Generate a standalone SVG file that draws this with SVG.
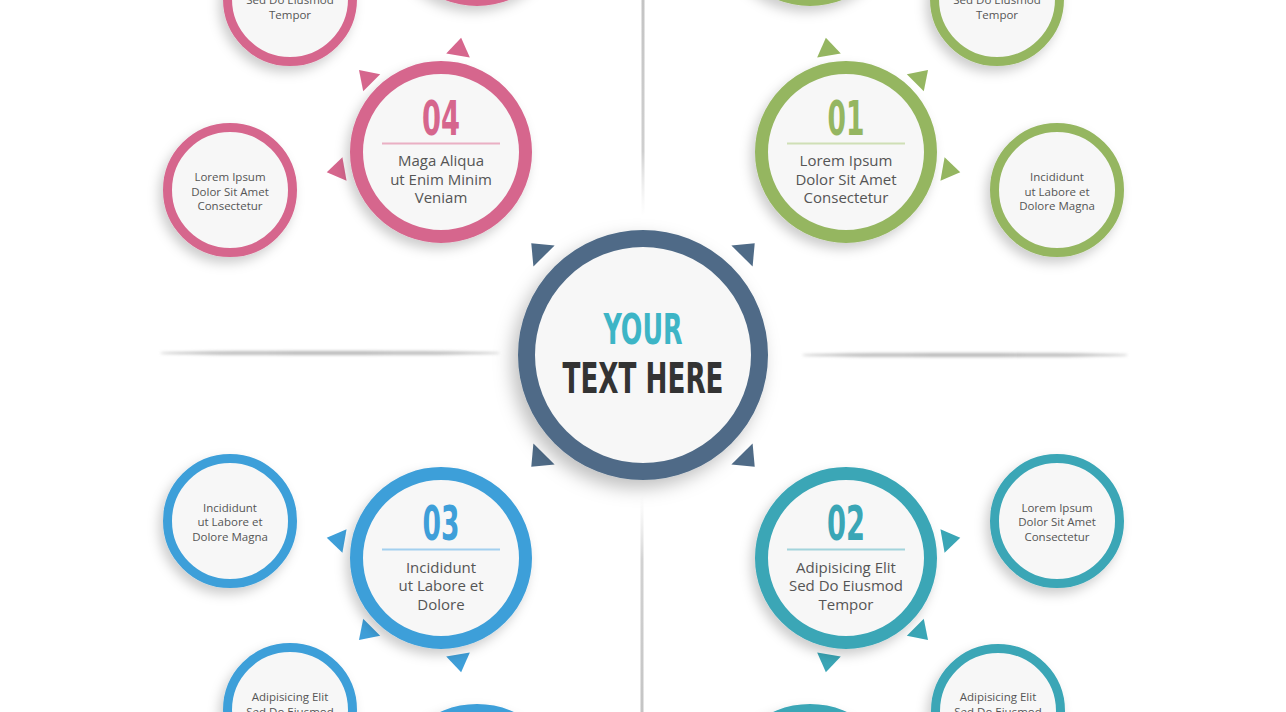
<svg xmlns="http://www.w3.org/2000/svg" xmlns:xlink="http://www.w3.org/1999/xlink" width="1286" height="712" viewBox="0 0 1286 712">
<defs>
  <filter id="sh" x="-30%" y="-30%" width="160%" height="160%">
    <feDropShadow dx="-4" dy="6" stdDeviation="6" flood-color="#000" flood-opacity="0.2"/>
  </filter>
  <filter id="shC" x="-30%" y="-30%" width="160%" height="160%">
    <feDropShadow dx="-6" dy="8" stdDeviation="9" flood-color="#000" flood-opacity="0.25"/>
  </filter>
  <filter id="blur" x="-10%" y="-400%" width="120%" height="900%">
    <feGaussianBlur stdDeviation="1.6"/>
  </filter>
  <linearGradient id="vTop" x1="0" y1="0" x2="0" y2="1">
    <stop offset="0" stop-color="#c4c4c4"/>
    <stop offset="0.7" stop-color="#cfcfcf"/>
    <stop offset="1" stop-color="#e8e8e8" stop-opacity="0"/>
  </linearGradient>
  <linearGradient id="vBot" x1="0" y1="1" x2="0" y2="0">
    <stop offset="0" stop-color="#c4c4c4"/>
    <stop offset="0.7" stop-color="#d2d2d2"/>
    <stop offset="1" stop-color="#e8e8e8" stop-opacity="0"/>
  </linearGradient>
  <polygon id="triN" points="116,0 98,-12 98,12"/>
  <polygon id="triC" points="158,0 140,-15 140,15"/>
</defs>
<style>
  .bg { fill: #ffffff; }
  .face { fill: #f7f7f7; }
  .ringL { stroke-width: 13; }
  .ringS { stroke-width: 9; }
  .pk { fill: #d6668d; } .pkS { stroke: #d6668d; }
  .gr { fill: #95b661; } .grS { stroke: #95b661; }
  .bl { fill: #3e9fd9; } .blS { stroke: #3e9fd9; }
  .tl { fill: #3aa6b6; } .tlS { stroke: #3aa6b6; }
  .cb { fill: #4f6b87; }
  .sm { font-family: "Open Sans", "DejaVu Sans", sans-serif; font-size: 11.5px; fill: #555555; text-anchor: middle; }
  .md { font-family: "Open Sans", "DejaVu Sans", sans-serif; font-size: 15px; fill: #555555; text-anchor: middle; }
  .num { font-family: "Liberation Sans Narrow", "DejaVu Sans Condensed", sans-serif; font-size: 48px; font-weight: bold; text-anchor: middle; }
  .big { font-family: "Liberation Sans Narrow", "DejaVu Sans Condensed", sans-serif; font-size: 43px; font-weight: bold; text-anchor: middle; }
</style>
<rect class="bg" x="0" y="0" width="1286" height="712"/>

<g id="dividers">
  <rect x="641.5" y="0" width="3" height="216" fill="url(#vTop)"/>
  <rect x="640.5" y="495" width="3" height="217" fill="url(#vBot)"/>
  <ellipse cx="330" cy="353" rx="170" ry="2" fill="#b8b8b8" filter="url(#blur)"/>
  <ellipse cx="965" cy="355" rx="163" ry="2" fill="#b8b8b8" filter="url(#blur)"/>
</g>

<!-- partial circles at edges -->
<g id="edge-pink-top">
  <circle cx="477" cy="-85" r="84.5" class="face pkS ringL" filter="url(#sh)"/>
</g>
<g id="edge-green-top">
  <circle cx="810" cy="-85" r="84.5" class="face grS ringL" filter="url(#sh)"/>
</g>
<g id="edge-blue-bottom">
  <circle cx="477" cy="795" r="84.5" class="face blS ringL" filter="url(#sh)"/>
</g>
<g id="edge-teal-bottom">
  <circle cx="810" cy="795" r="84.5" class="face tlS ringL" filter="url(#sh)"/>
</g>

<!-- small pink -->
<g id="small-pink-top">
  <circle cx="290" cy="-1" r="62.5" class="face pkS ringS" filter="url(#sh)"/>
  <text class="sm" x="290" y="4">Sed Do Eiusmod</text>
  <text class="sm" x="290" y="18.5">Tempor</text>
</g>
<g id="small-pink-left">
  <circle cx="230" cy="190" r="62.5" class="face pkS ringS" filter="url(#sh)"/>
  <text class="sm" x="230" y="181">Lorem Ipsum</text>
  <text class="sm" x="230" y="195.5">Dolor Sit Amet</text>
  <text class="sm" x="230" y="210">Consectetur</text>
</g>

<!-- small green -->
<g id="small-green-top">
  <circle cx="997" cy="-1" r="62.5" class="face grS ringS" filter="url(#sh)"/>
  <text class="sm" x="997" y="4">Sed Do Eiusmod</text>
  <text class="sm" x="997" y="18.5">Tempor</text>
</g>
<g id="small-green-right">
  <circle cx="1057" cy="190" r="62.5" class="face grS ringS" filter="url(#sh)"/>
  <text class="sm" x="1057" y="181">Incididunt</text>
  <text class="sm" x="1057" y="195.5">ut Labore et</text>
  <text class="sm" x="1057" y="210">Dolore Magna</text>
</g>

<!-- small blue -->
<g id="small-blue-left">
  <circle cx="230" cy="521" r="62.5" class="face blS ringS" filter="url(#sh)"/>
  <text class="sm" x="230" y="511.5">Incididunt</text>
  <text class="sm" x="230" y="526">ut Labore et</text>
  <text class="sm" x="230" y="540.5">Dolore Magna</text>
</g>
<g id="small-blue-bottom">
  <circle cx="290" cy="710" r="62.5" class="face blS ringS" filter="url(#sh)"/>
  <text class="sm" x="290" y="701">Adipisicing Elit</text>
  <text class="sm" x="290" y="715.5">Sed Do Eiusmod</text>
</g>

<!-- small teal -->
<g id="small-teal-right">
  <circle cx="1057" cy="521" r="62.5" class="face tlS ringS" filter="url(#sh)"/>
  <text class="sm" x="1057" y="511.5">Lorem Ipsum</text>
  <text class="sm" x="1057" y="526">Dolor Sit Amet</text>
  <text class="sm" x="1057" y="540.5">Consectetur</text>
</g>
<g id="small-teal-bottom">
  <circle cx="998" cy="711" r="62.5" class="face tlS ringS" filter="url(#sh)"/>
  <text class="sm" x="998" y="701">Adipisicing Elit</text>
  <text class="sm" x="998" y="715.5">Sed Do Eiusmod</text>
</g>

<!-- numbered 04 -->
<g id="node-04">
  <use xlink:href="#triN" class="pk" transform="translate(441,152) rotate(-80)"/>
  <use xlink:href="#triN" class="pk" transform="translate(441,152) rotate(-135)"/>
  <use xlink:href="#triN" class="pk" transform="translate(441,152) rotate(170)"/>
  <circle cx="441" cy="152" r="84.5" class="face pkS ringL" filter="url(#sh)"/>
  <text class="num" x="441" y="135" fill="#d6668d" textLength="38" lengthAdjust="spacingAndGlyphs">04</text>
  <line x1="382" y1="143.5" x2="500" y2="143.5" stroke="#eab0c4" stroke-width="2"/>
  <text class="md" x="441" y="166">Maga Aliqua</text>
  <text class="md" x="441" y="184.5">ut Enim Minim</text>
  <text class="md" x="441" y="203">Veniam</text>
</g>

<!-- numbered 01 -->
<g id="node-01">
  <use xlink:href="#triN" class="gr" transform="translate(846,152) rotate(-100)"/>
  <use xlink:href="#triN" class="gr" transform="translate(846,152) rotate(-45)"/>
  <use xlink:href="#triN" class="gr" transform="translate(846,152) rotate(10)"/>
  <circle cx="846" cy="152" r="84.5" class="face grS ringL" filter="url(#sh)"/>
  <text class="num" x="846" y="135" fill="#95b661" textLength="37" lengthAdjust="spacingAndGlyphs">01</text>
  <line x1="787" y1="143.5" x2="905" y2="143.5" stroke="#cfdfb6" stroke-width="2"/>
  <text class="md" x="846" y="166">Lorem Ipsum</text>
  <text class="md" x="846" y="184.5">Dolor Sit Amet</text>
  <text class="md" x="846" y="203">Consectetur</text>
</g>

<!-- numbered 03 -->
<g id="node-03">
  <use xlink:href="#triN" class="bl" transform="translate(441,558) rotate(190)"/>
  <use xlink:href="#triN" class="bl" transform="translate(441,558) rotate(135)"/>
  <use xlink:href="#triN" class="bl" transform="translate(441,558) rotate(80)"/>
  <circle cx="441" cy="558" r="84.5" class="face blS ringL" filter="url(#sh)"/>
  <text class="num" x="441" y="540" fill="#3e9fd9" textLength="37" lengthAdjust="spacingAndGlyphs">03</text>
  <line x1="382" y1="549.5" x2="500" y2="549.5" stroke="#a3d0ef" stroke-width="2"/>
  <text class="md" x="441" y="572.5">Incididunt</text>
  <text class="md" x="441" y="591">ut Labore et</text>
  <text class="md" x="441" y="609.5">Dolore</text>
</g>

<!-- numbered 02 -->
<g id="node-02">
  <use xlink:href="#triN" class="tl" transform="translate(846,558) rotate(-10)"/>
  <use xlink:href="#triN" class="tl" transform="translate(846,558) rotate(45)"/>
  <use xlink:href="#triN" class="tl" transform="translate(846,558) rotate(100)"/>
  <circle cx="846" cy="558" r="84.5" class="face tlS ringL" filter="url(#sh)"/>
  <text class="num" x="846" y="540" fill="#3aa6b6" textLength="38" lengthAdjust="spacingAndGlyphs">02</text>
  <line x1="787" y1="549.5" x2="905" y2="549.5" stroke="#a3d4dc" stroke-width="2"/>
  <text class="md" x="846" y="572.5">Adipisicing Elit</text>
  <text class="md" x="846" y="591">Sed Do Eiusmod</text>
  <text class="md" x="846" y="609.5">Tempor</text>
</g>

<!-- center -->
<g id="node-center">
  <use xlink:href="#triC" class="cb" transform="translate(643,355) rotate(-135)"/>
  <use xlink:href="#triC" class="cb" transform="translate(643,355) rotate(-45)"/>
  <use xlink:href="#triC" class="cb" transform="translate(643,355) rotate(45)"/>
  <use xlink:href="#triC" class="cb" transform="translate(643,355) rotate(135)"/>
  <circle cx="643" cy="355" r="116.5" class="face" stroke="#4f6b87" stroke-width="17" filter="url(#shC)"/>
  <text class="big" x="643" y="344" fill="#3db5c6" textLength="79" lengthAdjust="spacingAndGlyphs">YOUR</text>
  <text class="big" x="643" y="393" fill="#333333" textLength="161" lengthAdjust="spacingAndGlyphs">TEXT HERE</text>
</g>
</svg>
